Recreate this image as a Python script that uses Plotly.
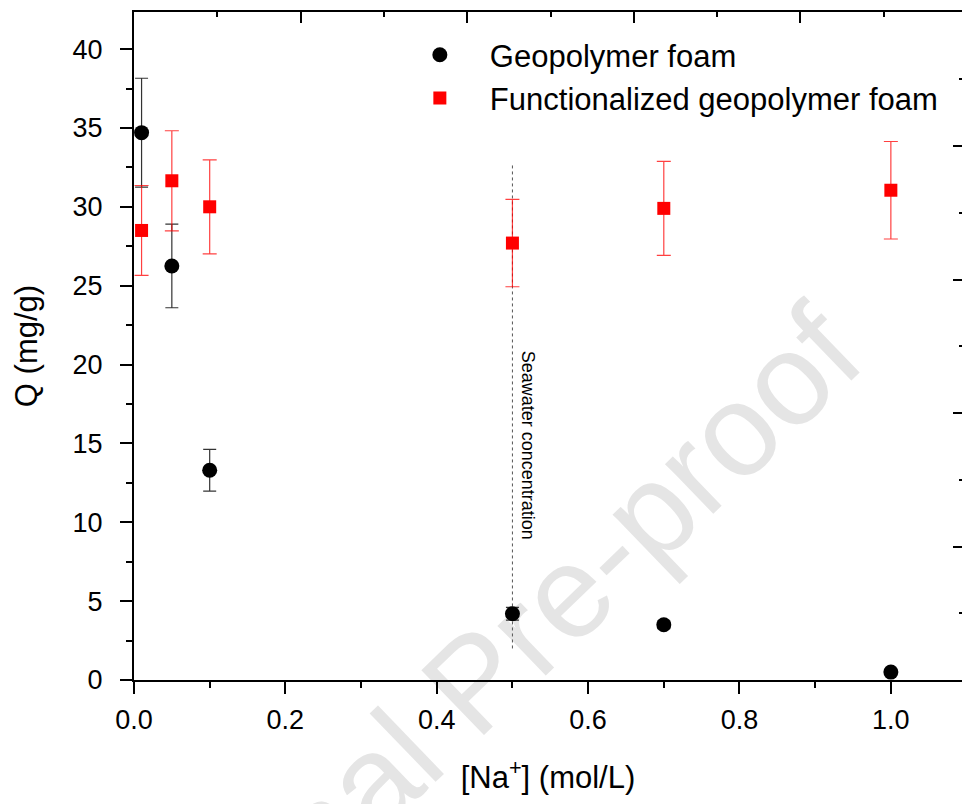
import plotly.graph_objects as go

# ---- data ----
na_conc = [0.01, 0.05, 0.1, 0.5, 0.7, 1.0]
geo_q = [34.7, 26.25, 13.3, 4.2, 3.5, 0.5]
geo_err = [3.45, 2.65, 1.32, 0.4, 0.25, 0.1]
func_q = [28.5, 31.65, 30.0, 27.7, 29.9, 31.05]
func_err = [2.85, 3.17, 2.98, 2.77, 2.98, 3.09]
seawater_x = [0.5, 0.5]
seawater_y = [2.0, 32.7]
series_names = ["Geopolymer foam", "Functionalized geopolymer foam"]

FONT = "Liberation Sans, Arial, sans-serif"

fig = go.Figure()

fig.add_trace(go.Scatter(
    x=seawater_x, y=seawater_y, mode="lines",
    line=dict(color="#555555", width=1, dash="dot"),
    showlegend=False, hoverinfo="skip"))

fig.add_trace(go.Scatter(
    x=na_conc, y=geo_q, mode="markers", name=series_names[0],
    marker=dict(symbol="circle", size=15, color="black"),
    error_y=dict(type="data", array=geo_err, visible=True,
                 color="rgba(0,0,0,0.8)", thickness=1.2, width=6.5)))

fig.add_trace(go.Scatter(
    x=na_conc, y=func_q, mode="markers", name=series_names[1],
    marker=dict(symbol="square", size=13, color="#ff0000"),
    error_y=dict(type="data", array=func_err, visible=True,
                 color="rgba(255,0,0,0.75)", thickness=1.2, width=7)))

# invisible trace to activate secondary (top/right) axes
fig.add_trace(go.Scatter(x=[None], y=[None], xaxis="x2", yaxis="y2",
                         showlegend=False, hoverinfo="skip"))

fig.add_annotation(
    x=0.521, y=14.9, xref="x", yref="y", text="Seawater concentration",
    textangle=90, showarrow=False,
    font=dict(family=FONT, size=18, color="black"))

# watermark
fig.add_shape(
    type="rect", xref="paper", yref="paper",
    x0=0.39, x1=0.41, y0=0.0, y1=0.02,
    line=dict(width=0), fillcolor="rgba(0,0,0,0)", layer="below",
    label=dict(text="Journal Pre-proof", textangle=-44,
               textposition="middle center",
               font=dict(family=FONT, size=131, color="#e5e5e5")))

fig.update_layout(
    width=962, height=804,
    margin=dict(l=134, r=0, t=12, b=124),
    plot_bgcolor="white", paper_bgcolor="white",
    font=dict(family=FONT, color="black"),
    showlegend=True,
    legend=dict(x=0.309, y=0.976, xanchor="left", yanchor="top",
                bgcolor="rgba(0,0,0,0)", itemwidth=90,
                font=dict(family=FONT, size=31, color="black")),
    xaxis=dict(
        range=[0, 1.094], showline=True, linecolor="black", linewidth=2,
        ticks="outside", ticklen=12, tickwidth=2, tickcolor="black",
        dtick=0.2, tick0=0, tickformat=".1f",
        tickfont=dict(family=FONT, size=27), ticklabelstandoff=3,
        minor=dict(dtick=0.1, ticks="outside", ticklen=6, tickwidth=2, tickcolor="black"),
        showgrid=False, zeroline=False,
        title=dict(text="[Na<sup>+</sup>] (mol/L)", font=dict(family=FONT, size=31), standoff=32),
    ),
    yaxis=dict(
        range=[0, 42.35], showline=True, linecolor="black", linewidth=2,
        ticks="outside", ticklen=12, tickwidth=2, tickcolor="black",
        dtick=5, tick0=0,
        tickfont=dict(family=FONT, size=27), ticklabelstandoff=12,
        minor=dict(dtick=2.5, ticks="outside", ticklen=6, tickwidth=2, tickcolor="black"),
        showgrid=False, zeroline=False,
        title=dict(text="Q (mg/g)", font=dict(family=FONT, size=31), standoff=26),
    ),
    xaxis2=dict(
        overlaying="x", side="top", anchor="y", range=[0, 4.97],
        showline=True, linecolor="black", linewidth=2,
        ticks="inside", ticklen=11, tickwidth=2, tickcolor="black", dtick=1, tick0=0,
        minor=dict(dtick=0.5, ticks="inside", ticklen=5, tickwidth=2, tickcolor="black"),
        showticklabels=False, showgrid=False, zeroline=False,
    ),
    yaxis2=dict(
        overlaying="y", side="right", anchor="x", range=[0, 5.004],
        showline=False,
        ticks="inside", ticklen=9, tickwidth=2, tickcolor="black", dtick=1, tick0=0,
        minor=dict(dtick=0.5, ticks="inside", ticklen=3, tickwidth=2, tickcolor="black"),
        showticklabels=False, showgrid=False, zeroline=False,
    ),
)

fig.write_html("out.html")
